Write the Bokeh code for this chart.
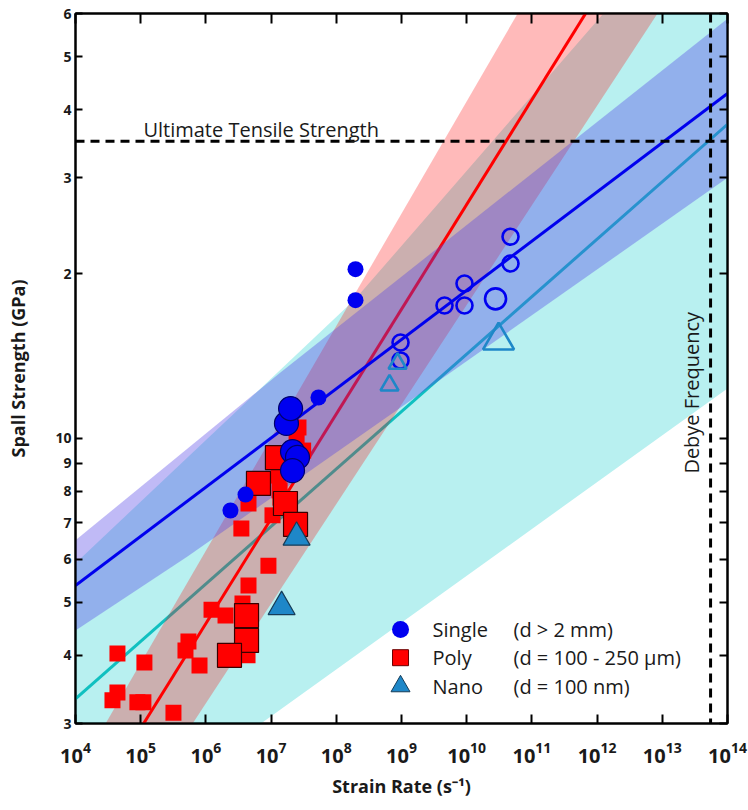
from math import pi
from bokeh.plotting import figure
from bokeh.models import Range1d, FixedTicker, LogAxis, Span, Label
from bokeh.core.properties import value
from bokeh.embed import file_html
from bokeh.resources import INLINE

# ---------------- data ----------------
# Single crystal, filled (small and large symbols)
single_x = [2.38e6, 4.05e6, 5.33e7, 1.97e8, 1.97e8]
single_y = [7.37, 7.88, 11.87, 20.4, 17.9]
single_big_x = [1.72e7, 1.99e7, 2.13e7, 2.54e7, 2.13e7]
single_big_y = [10.64, 11.33, 9.45, 9.22, 8.72]
# Single crystal, open symbols
single_open_x = [9.66e8, 9.66e8, 4.57e9, 9.25e9, 9.25e9, 4.70e10, 4.70e10]
single_open_y = [14.97, 13.88, 17.5, 19.2, 17.5, 23.4, 20.9]
single_open_big_x = [2.77e10]
single_open_big_y = [18.0]

# Poly crystal (small and large symbols)
poly_x = [4.4e4, 1.14e5, 4.4e4, 3.69e4, 8.9e4, 1.1e5, 3.18e5, 5.4e5, 4.86e5,
          7.98e5, 1.22e6, 2.0e6, 3.64e6, 4.5e6, 9.1e6, 3.5e6, 4.5e6, 1.05e7,
          1.35e7, 1.3e7, 2.63e7, 3.1e7, 4.35e6, 1.39e7, 2.46e7]
poly_y = [4.03, 3.88, 3.42, 3.31, 3.28, 3.28, 3.14, 4.24, 4.08,
          3.83, 4.85, 4.73, 4.98, 5.37, 5.84, 6.83, 7.59, 7.22,
          8.02, 8.54, 10.46, 9.49, 4.0, 7.78, 9.9]
poly_big_x = [1.25e7, 6.4e6, 1.66e7, 2.37e7, 4.2e6, 4.2e6, 2.3e6]
poly_big_y = [9.21, 8.26, 7.59, 6.95, 4.73, 4.26, 4.0]

# Nano crystal
nano_x = [2.46e7, 1.45e7]
nano_y = [6.58, 4.91]
nano_open_x = [8.7e8, 6.55e8]
nano_open_y = [13.7, 12.5]
nano_open_big_x = [3.08e10]
nano_open_big_y = [15.1]

# Fits (end points) and bands
fit_x = [1e4, 1e14]
single_fit_y = [5.37, 42.8]
poly_fit_y = [1.89, 157.0]
nano_fit_y = [3.33, 37.6]

single_band_x = [1e4, 1.39e7, 1e14, 1e14, 1.53e9, 5.22e5, 1e4]
single_band_y = [6.50, 13.19, 58.7, 30.0, 11.82, 6.07, 4.44]
poly_band_x = [1e4, 1e14]
poly_band_lo = [1.41, 94.2]
poly_band_hi = [2.41, 276.0]
nano_band_x = [1e4, 1.97e8, 1.25e12, 1e14, 1e14, 1e4]
nano_band_y = [5.90, 18.0, 60.0, 112.0, 12.33, 1.71]

uts_value = 35.0
debye_value = 5.5e13

x_ticks = [1e4, 1e5, 1e6, 1e7, 1e8, 1e9, 1e10, 1e11, 1e12, 1e13, 1e14]
y_ticks = [3, 4, 5, 6, 7, 8, 9, 10, 20, 30, 40, 50, 60]
y_tick_labels = ["3", "4", "5", "6", "7", "8", "9", "10", "2", "3", "4", "5", "6"]

# legend (drawn inside the plot, as in the reference)
legend_names = ["Single", "Poly", "Nano"]
legend_notes = ["(d > 2 mm)", "(d = 100 - 250 \u00b5m)", "(d = 100 nm)"]
legend_row_y = [4.46, 3.96, 3.51]
legend_key_x = 9.66e8
legend_name_x = 2.99e9
legend_note_x = 5.22e10

FONT = "Open Sans"
TXT = "#1a1a1a"

p = figure(width=748, height=810, x_axis_type="log", y_axis_type="log",
           x_range=Range1d(1e4, 1e14), y_range=Range1d(3, 60),
           output_backend="svg", toolbar_location=None,
           min_border_left=75, min_border_right=21, min_border_top=13,
           min_border_bottom=87)
p.grid.visible = False
p.outline_line_color = "black"
p.outline_line_width = 2
p.background_fill_color = "white"
p.border_fill_color = "white"

# bands and fits (layer order as in reference)
p.patch(nano_band_x, nano_band_y, fill_color="#00c8c8", fill_alpha=0.28, line_color=None)
p.line(fit_x, nano_fit_y, line_color="#10c0c0", line_width=3)
p.varea(x=poly_band_x, y1=poly_band_lo, y2=poly_band_hi, fill_color="#ff0000", fill_alpha=0.27)
p.line(fit_x, poly_fit_y, line_color="#ff0000", line_width=3)
p.patch(single_band_x, single_band_y, fill_color="#5040e6", fill_alpha=0.36, line_color=None)
p.line(fit_x, single_fit_y, line_color="#0000ee", line_width=3)

# points
p.scatter(poly_x, poly_y, marker="square", size=16, fill_color="#ff0000", line_color=None)
p.scatter(poly_big_x, poly_big_y, marker="square", size=24, fill_color="#ff0000",
          line_color="#3a0000", line_width=1.2)
p.scatter(single_x, single_y, marker="circle", size=16, fill_color="#0000f0", line_color=None)
p.scatter(single_big_x, single_big_y, marker="circle", size=24, fill_color="#0000f0",
          line_color="#00006a", line_width=1.2)
p.scatter(single_open_x, single_open_y, marker="circle", size=16, fill_color=None,
          line_color="#0000f0", line_width=2.6)
p.scatter(single_open_big_x, single_open_big_y, marker="circle", size=21, fill_color=None,
          line_color="#0000f0", line_width=2.6)
p.scatter(nano_x, nano_y, marker="triangle", size=27, fill_color="#1e87c8",
          line_color="#163c58", line_width=1.2)
p.scatter(nano_open_x, nano_open_y, marker="triangle", size=18, fill_color=None,
          line_color="#1e87c8", line_width=2.6)
p.scatter(nano_open_big_x, nano_open_big_y, marker="triangle", size=31, fill_color=None,
          line_color="#1e87c8", line_width=2.6)

# reference lines
p.add_layout(Span(location=uts_value, dimension="width", line_color="black",
                  line_width=3, line_dash="9 6"))
p.add_layout(Span(location=debye_value, dimension="height", line_color="black",
                  line_width=3, line_dash="9 6"))
p.add_layout(Label(x=1.1e5, y=uts_value, y_offset=12, text="Ultimate Tensile Strength",
                   text_font=FONT, text_font_size="20px", text_color=TXT,
                   text_baseline="alphabetic"))
p.add_layout(Label(x=debye_value, y=8.61, x_offset=-6, angle=pi / 2,
                   text="Debye Frequency", text_font=FONT, text_font_size="20px",
                   text_color=TXT, text_align="left", text_baseline="bottom"))

# legend keys and texts
p.scatter([legend_key_x], [legend_row_y[0]], marker="circle", size=17,
          fill_color="#0000f0", line_color=None)
p.scatter([legend_key_x], [legend_row_y[1]], marker="square", size=16,
          fill_color="#ff0000", line_color="#6a0000", line_width=1)
p.scatter([legend_key_x], [legend_row_y[2]], marker="triangle", size=19,
          fill_color="#1e87c8", line_color="#163c58", line_width=1)
p.text(x=[legend_name_x] * 3, y=legend_row_y, text=legend_names, text_font=value(FONT),
       text_font_size=value("20px"), text_baseline="middle", text_color=TXT)
p.text(x=[legend_note_x] * 3, y=legend_row_y, text=legend_notes, text_font=value(FONT),
       text_font_size=value("20px"), text_baseline="middle", text_color=TXT)

# axes
xa = p.xaxis[0]
xa.ticker = FixedTicker(ticks=x_ticks)
xa.major_tick_in = 9
xa.major_tick_out = 0
xa.minor_tick_line_color = None
xa.axis_line_width = 2
xa.major_tick_line_width = 2
xa.major_label_text_font = FONT
xa.major_label_text_font_size = "20px"
xa.major_label_text_font_style = "bold"
xa.major_label_text_color = TXT
xa.major_label_standoff = 18
xa.axis_label = "Strain Rate (s\u207b\u00b9)"
xa.axis_label_text_font = FONT
xa.axis_label_text_font_size = "18px"
xa.axis_label_text_font_style = "bold"
xa.axis_label_text_color = TXT
xa.axis_label_standoff = 8

ya = p.yaxis[0]
ya.ticker = FixedTicker(ticks=y_ticks)
ya.major_label_overrides = {t: lab for t, lab in zip(y_ticks, y_tick_labels)}
ya.major_tick_in = 7
ya.major_tick_out = 0
ya.minor_tick_line_color = None
ya.axis_line_width = 2
ya.major_tick_line_width = 2
ya.major_label_text_font = FONT
ya.major_label_text_font_size = "14px"
ya.major_label_text_font_style = "bold"
ya.major_label_text_color = TXT
ya.major_label_standoff = 4
ya.axis_label = "Spall Strength (GPa)"
ya.axis_label_text_font = FONT
ya.axis_label_text_font_size = "18px"
ya.axis_label_text_font_style = "bold"
ya.axis_label_text_color = TXT
ya.axis_label_standoff = 22

top = LogAxis(ticker=FixedTicker(ticks=x_ticks), major_tick_in=10, major_tick_out=0,
              major_label_text_font_size="2px", major_label_text_color=None,
              minor_tick_line_color=None,
              axis_line_width=2, major_tick_line_width=2, major_label_standoff=0)
p.add_layout(top, "above")
right = LogAxis(ticker=FixedTicker(ticks=y_ticks), major_tick_in=8, major_tick_out=0,
                major_label_text_font_size="2px", major_label_text_color=None,
                minor_tick_line_color=None,
                axis_line_width=2, major_tick_line_width=2, major_label_standoff=0)
p.add_layout(right, "right")

open("out.html", "w").write(file_html(p, INLINE))
